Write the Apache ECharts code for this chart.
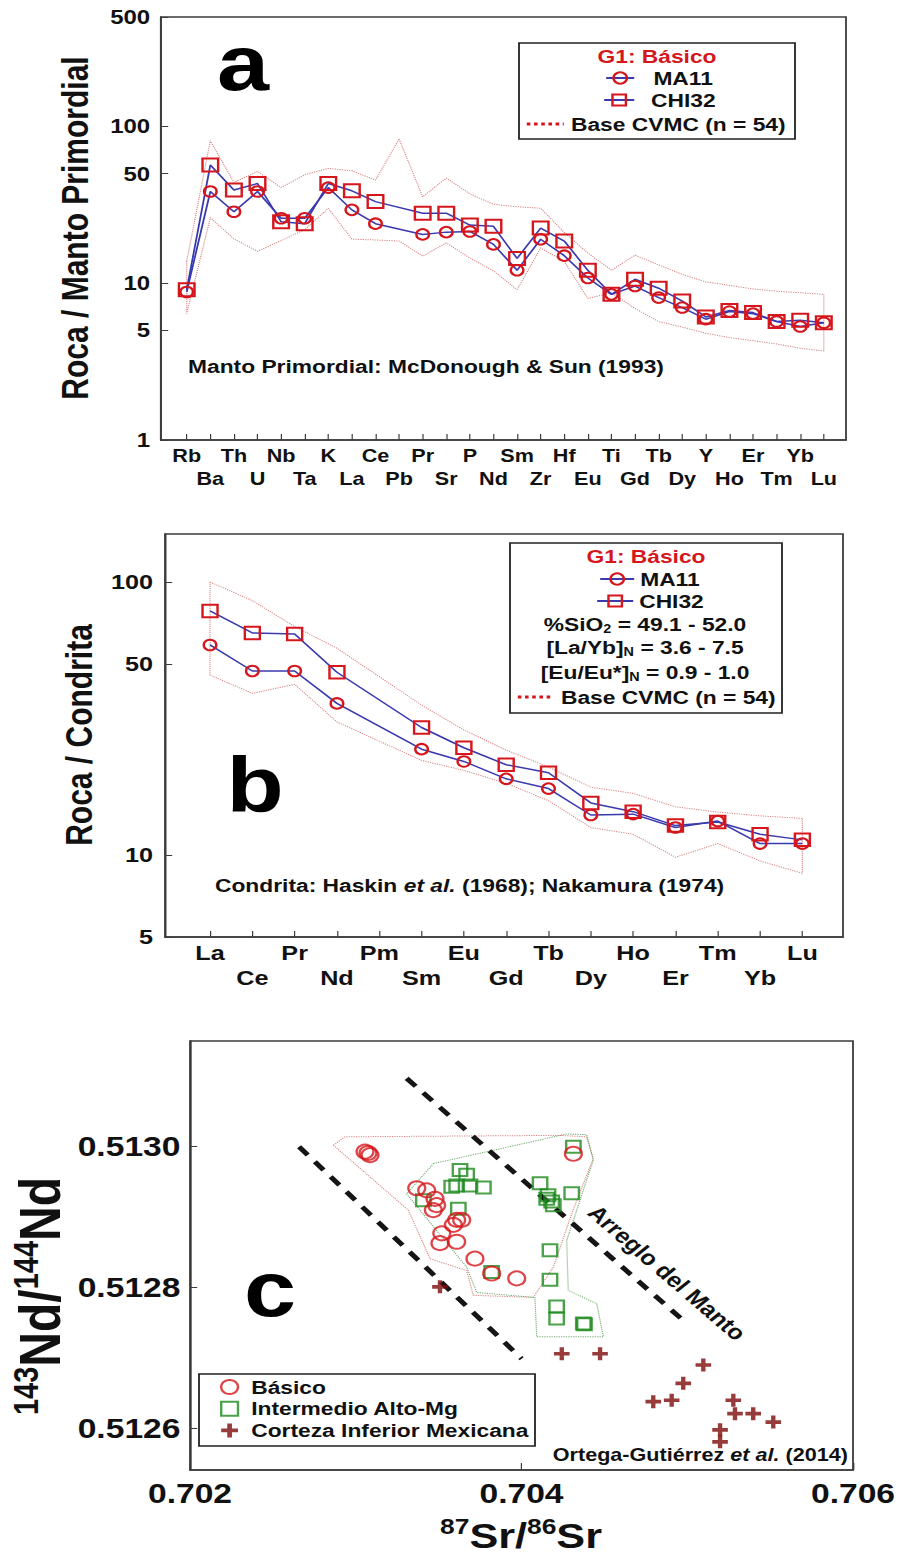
<!DOCTYPE html>
<html>
<head>
<meta charset="utf-8">
<title>G1 Básico - diagramas</title>
<script src="https://cdn.jsdelivr.net/npm/echarts@6/dist/echarts.min.js"></script>
<style>
  html, body { margin: 0; padding: 0; background: #fff; }
  #wrap { width: 902px; height: 1558px; overflow: hidden; }
  /* la figura original está estirada en horizontal */
  #main { width: 752px; height: 1558px; transform: scaleX(1.2); transform-origin: 0 0; }
</style>
</head>
<body>
<div id="wrap"><div id="main"></div></div>
<script>
// ---- a: normalizado al manto primordial ----
const elemA = ['Rb','Ba','Th','U','Nb','Ta','K','La','Ce','Pb','Pr','Sr','P','Nd','Sm','Zr','Hf','Eu','Ti','Gd','Tb','Dy','Y','Ho','Er','Tm','Yb','Lu'];
const ma11A = [8.8, 38.5, 28.6, 38.5, 26.0, 26.0, 40.8, 29.4, 24.0, null, 20.5, 21.2, 21.4, 17.7, 12.1, 19.1, 15.0, 10.8, 8.5, 9.6, 8.1, 7.0, 5.9, 6.6, 6.4, 5.7, 5.3, 5.6];
const chi32A = [9.1, 56.8, 39.4, 43.3, 24.7, 24.0, 43.3, 38.9, 33.2, null, 28.0, 28.0, 23.5, 23.1, 14.4, 22.5, 18.6, 12.1, 8.5, 10.6, 9.3, 7.7, 6.1, 6.7, 6.5, 5.7, 5.8, 5.6];
const cvmcTopA = [13.8, 81.3, 44.0, 51.7, 40.8, 49.2, 54.1, 52.2, 45.5, 83.4, 35.6, 46.9, 37.2, 31.9, 30.8, 30.1, 21.1, 15.6, 12.1, 15.1, 13.1, 11.4, 10.2, 9.7, 9.2, 8.9, 8.7, 8.5];
const cvmcBotA = [6.4, 26.2, 19.2, 16.0, 18.7, 22.0, 30.1, 19.1, 18.9, 18.6, 14.9, 18.1, 14.5, 12.0, 9.1, 16.8, 13.8, 8.0, 8.7, 6.9, 5.7, 5.25, 4.8, 4.5, 4.3, 4.1, 3.85, 3.7];
const yTicksA = [1, 5, 10, 50, 100, 500];

// ---- b: REE normalizado a condrita ----
const elemB = ['La','Ce','Pr','Nd','Pm','Sm','Eu','Gd','Tb','Dy','Ho','Er','Tm','Yb','Lu'];
const ma11B = [58.8, 47.2, 47.2, 35.9, null, 24.4, 22.0, 19.0, 17.5, 14.0, 14.1, 12.6, 13.3, 11.0, 11.0];
const chi32B = [78.4, 65.1, 64.5, 46.7, null, 29.3, 24.7, 21.4, 20.0, 15.5, 14.4, 12.8, 13.2, 11.9, 11.35];
const cvmcTopB = [100, 85.5, 68.7, 57.2, null, 35.4, 28.7, 24.2, 21.0, 17.7, 16.8, 15.0, 14.35, 13.9, 13.6];
const cvmcBotB = [45.6, 39.1, 42.2, 30.7, null, 22.2, 20.4, 18.3, 15.8, 12.6, 11.9, 9.8, 11.0, 9.5, 8.56];
const yTicksB = [5, 10, 50, 100];

// ---- c: 87Sr/86Sr vs 143Nd/144Nd ----
const basicoC = [
  [0.703056,0.512993],[0.703086,0.512988],[0.703074,0.512991],[0.703368,0.512941],[0.703428,0.512938],
  [0.703478,0.512926],[0.703488,0.512917],[0.703468,0.512910],[0.703609,0.512896],[0.703639,0.512896],
  [0.703589,0.512889],[0.703519,0.512877],[0.703508,0.512863],[0.703609,0.512865],[0.703719,0.512841],
  [0.703820,0.512820],[0.703971,0.512813],[0.704313,0.512990]
];
const intermedioC = [
  [0.703629,0.512967],[0.703669,0.512960],[0.703579,0.512943],[0.703609,0.512945],[0.703689,0.512945],
  [0.703770,0.512942],[0.703408,0.512924],[0.703619,0.512912],[0.703820,0.512822],[0.704313,0.513000],
  [0.704112,0.512948],[0.704152,0.512926],[0.704182,0.512922],[0.704192,0.512917],[0.704160,0.512931],
  [0.704303,0.512934],[0.704172,0.512853],[0.704172,0.512811],[0.704212,0.512773],[0.704212,0.512756],
  [0.704373,0.512749],[0.704380,0.512748]
];
const cortezaC = [
  [0.703508,0.512801],[0.704243,0.512706],[0.704474,0.512706],[0.705097,0.512690],[0.704976,0.512664],
  [0.704795,0.512638],[0.704906,0.512640],[0.705278,0.512640],[0.705288,0.512621],[0.705398,0.512621],
  [0.705519,0.512609],[0.705198,0.512598],[0.705198,0.512581]
];
const envBasicoC = [
  [0.702865,0.513002],[0.702935,0.513014],[0.704232,0.513016],[0.704393,0.513014],[0.704433,0.512983],
  [0.704311,0.512910],[0.704192,0.512829],[0.704071,0.512786],[0.703709,0.512789],[0.703669,0.512824],
  [0.703448,0.512841],[0.703317,0.512910],[0.702865,0.513002]
];
const envInterC = [
  [0.703468,0.512976],[0.704273,0.513018],[0.704393,0.513017],[0.704433,0.512981],[0.704273,0.512867],
  [0.704282,0.512796],[0.704454,0.512777],[0.704494,0.512730],[0.704092,0.512730],[0.704081,0.512786],
  [0.703730,0.512793],[0.703669,0.512829],[0.703307,0.512933],[0.703468,0.512976]
];
const mantoLo = [[0.702658,0.513000],[0.704001,0.512699]];
const mantoHi = [[0.703307,0.513097],[0.704997,0.512749]];
const xTicksC = [0.702, 0.704, 0.706];
const yTicksC = [0.5126, 0.5128, 0.5130];

const FONT = '"Liberation Sans", Arial, Helvetica, sans-serif';
const RED = '#d5161c';
const BLUE = '#3a3aae';
const ENV = '#d98080';
const AX = '#3c3c3c';
const S = 1.2;
const hx = v => v / S;   // posiciones horizontales medidas en pantalla

function pts(arr) {
  const out = [];
  arr.forEach((v, i) => { if (v != null) out.push([i, v]); });
  return out;
}
function band(top, bot) {
  const up = pts(top), lo = pts(bot).reverse();
  return up.concat(lo, [up[0]]);
}
function idx(arr) { return arr.map((_, i) => i); }

const lbl = (size, extra) => Object.assign({ fontFamily: FONT, fontWeight: 'bold', fontSize: size, color: '#111' }, extra || {});

// eje de elementos: dos ejes en el mismo grid, uno por fila de etiquetas
function elemAxes(grid, names, min, max, size, margin, rowGap) {
  const all = idx(names);
  const even = all.filter(i => i % 2 === 0), odd = all.filter(i => i % 2 === 1);
  const fmt = v => names[Math.round(v)];
  return [
    {
      gridIndex: grid, type: 'value', min: min, max: max, position: 'bottom',
      axisLine: { show: true, onZero: false, lineStyle: { color: AX, width: 1.5 } },
      axisTick: { show: true, inside: true, length: 6, customValues: all, lineStyle: { color: AX } },
      axisLabel: lbl(size, { customValues: even, margin: margin, formatter: fmt }),
      splitLine: { show: false }
    },
    {
      gridIndex: grid, type: 'value', min: min, max: max, position: 'bottom', offset: 0,
      axisLine: { show: false, onZero: false }, axisTick: { show: false },
      axisLabel: lbl(size, { customValues: odd, margin: margin + rowGap, formatter: fmt }),
      splitLine: { show: false }
    }
  ];
}
function logY(grid, min, max, ticks, size, margin) {
  return {
    gridIndex: grid, type: 'log', logBase: 10, min: min, max: max,
    axisLine: { show: true, onZero: false, lineStyle: { color: AX, width: 1.5 } },
    axisTick: { show: true, inside: true, length: 6, customValues: ticks, lineStyle: { color: AX } },
    axisLabel: lbl(size, { customValues: ticks, margin: margin, formatter: v => String(Math.round(v)) }),
    splitLine: { show: false }, minorTick: { show: false }
  };
}
function rowLegend(name, left, cy, iconW, padLeft, extra) {
  return {
    data: [Object.assign({ name: name }, extra || {})],
    left: hx(left), top: cy - 10, padding: 0, itemWidth: hx(iconW), itemHeight: 14, selectedMode: false,
    textStyle: lbl(19, { lineHeight: 20, padding: [0, 0, 0, padLeft] })
  };
}
function txt(x, y, text, size, extra, rich) {
  const st = Object.assign({
    text: text, fontFamily: FONT, fontWeight: 'bold', fontSize: size, fill: '#111',
    align: 'center', verticalAlign: 'middle', textAlign: 'center', textVerticalAlign: 'middle'
  }, extra || {});
  if (rich) st.rich = rich;
  return { type: 'text', x: x, y: y, z: 10, style: st };
}

const sub = { fontFamily: FONT, fontWeight: 'bold', fontSize: 12, lineHeight: 12, verticalAlign: 'bottom', fill: '#111' };
const ital = { fontFamily: FONT, fontWeight: 'bold', fontStyle: 'italic', fontSize: 19, fill: '#111' };

const lineSeries = (name, data, x, y, symbol, size) => ({
  type: 'line', name: name, xAxisIndex: x, yAxisIndex: y, data: data,
  symbol: symbol, symbolSize: size, showAllSymbol: true, z: 3,
  lineStyle: { color: BLUE, width: 1.5 },
  itemStyle: { color: 'rgba(0,0,0,0)', borderColor: RED, borderWidth: 2 },
  emphasis: { disabled: true }
});
const envSeries = (data, x, y, color) => ({
  type: 'line', name: 'Base CVMC (n = 54)', xAxisIndex: x, yAxisIndex: y, data: data,
  symbol: 'none', z: 1, silent: true,
  itemStyle: { color: 'rgba(0,0,0,0)', borderWidth: 0 },
  lineStyle: { color: color, width: 1, type: 'dotted' }, emphasis: { disabled: true }
});
const plainLine = (name, data, color, width, type) => ({
  type: 'line', name: name, xAxisIndex: 4, yAxisIndex: 2, data: data, symbol: 'none', z: 1, silent: true,
  lineStyle: { color: color, width: width, type: type }, emphasis: { disabled: true }
});
const CROSS = 'path://M3.6,0h2.8v3.6h3.6v2.8h-3.6v3.6h-2.8v-3.6h-3.6v-2.8h3.6z';
const legendDots = { lineStyle: { color: RED, width: 3, type: 'dotted' }, itemStyle: { color: 'rgba(0,0,0,0)', borderWidth: 0 } };

const chart = echarts.init(document.getElementById('main'), null, { renderer: 'svg' });
chart.setOption({
  animation: false,
  backgroundColor: '#fff',
  grid: [
    { left: hx(161), top: 17, width: hx(685), height: 423, show: true, borderColor: AX, borderWidth: 1.5, backgroundColor: 'transparent' },
    { left: hx(165), top: 534, width: hx(678), height: 403, show: true, borderColor: AX, borderWidth: 1.5, backgroundColor: 'transparent' },
    { left: hx(190), top: 1041, width: hx(663), height: 429, show: true, borderColor: AX, borderWidth: 1.5, backgroundColor: 'transparent' }
  ],
  xAxis: [].concat(
    elemAxes(0, elemA, -1.09, 27.94, 18, 6.5, 23),
    elemAxes(1, elemB, -1.064, 14.96, 21, 5, 25),
    [{
      gridIndex: 2, type: 'value', min: 0.702, max: 0.706,
      axisLine: { show: true, onZero: false, lineStyle: { color: AX, width: 1.5 } },
      axisTick: { show: true, inside: true, length: 7, customValues: xTicksC, lineStyle: { color: AX } },
      axisLabel: lbl(28, { customValues: xTicksC, margin: 9, formatter: v => v.toFixed(3) }),
      splitLine: { show: false }
    }]
  ),
  yAxis: [
    logY(0, 1, 500, yTicksA, 20, 9),
    logY(1, 5, 150, yTicksB, 21, 10),
    {
      gridIndex: 2, type: 'value', min: 0.512541, max: 0.51315,
      axisLine: { show: true, onZero: false, lineStyle: { color: AX, width: 1.5 } },
      axisTick: { show: true, inside: true, length: 6, customValues: yTicksC, lineStyle: { color: AX } },
      axisLabel: lbl(28, { customValues: yTicksC, margin: 8, formatter: v => v.toFixed(4) }),
      splitLine: { show: false }
    }
  ],
  legend: [
    rowLegend('MA11', 605, 78, 28, 11),
    rowLegend('CHI32', 603, 100, 30, 9),
    rowLegend('Base CVMC (n = 54)', 525, 124, 37, 1, legendDots),
    rowLegend('MA11', 599, 579, 34, 0),
    rowLegend('CHI32', 596, 601, 36, 0),
    rowLegend('Base CVMC (n = 54)', 516, 697, 36, 1, legendDots),
    {
      data: ['Básico', 'Intermedio Alto-Mg', 'Corteza Inferior Mexicana'],
      orient: 'vertical', left: hx(220), top: 1377, padding: 0, itemGap: 1.7,
      itemWidth: 14, itemHeight: 14, selectedMode: false,
      textStyle: lbl(19, { lineHeight: 20, padding: [0, 0, 0, 6] })
    }
  ],
  graphic: [
    // recuadros de leyenda
    { type: 'rect', z: 1, shape: { x: hx(519), y: 43, width: hx(276), height: 96 }, style: { fill: 'none', stroke: '#222', lineWidth: 1.5 } },
    { type: 'rect', z: 1, shape: { x: hx(510), y: 543, width: hx(272), height: 170 }, style: { fill: 'none', stroke: '#222', lineWidth: 1.5 } },
    { type: 'rect', z: 1, shape: { x: hx(199), y: 1374, width: hx(336), height: 72 }, style: { fill: 'none', stroke: '#222', lineWidth: 1.5 } },
    // letras de panel
    txt(hx(243), 63, 'a', 78, { fill: '#000' }),
    txt(hx(255), 785, 'b', 78, { fill: '#000' }),
    txt(hx(270), 1289, 'c', 78, { fill: '#000' }),
    // títulos de leyenda
    txt(hx(657), 56, 'G1: Básico', 19, { fill: RED }),
    txt(hx(646), 556, 'G1: Básico', 19, { fill: RED }),
    txt(hx(645), 624, '%SiO{s|2} = 49.1 - 52.0', 19, { lineHeight: 22 }, { s: sub }),
    txt(hx(645), 647, '[La/Yb]{s|N} = 3.6 - 7.5', 19, { lineHeight: 22 }, { s: sub }),
    txt(hx(645), 672, '[Eu/Eu*]{s|N} = 0.9 - 1.0', 19, { lineHeight: 22 }, { s: sub }),
    // notas
    txt(hx(188), 366, 'Manto Primordial: McDonough & Sun (1993)', 19, { align: 'left', textAlign: 'left' }),
    txt(hx(215), 885, 'Condrita: Haskin {i|et al.} (1968); Nakamura (1974)', 19, { align: 'left', textAlign: 'left' }, { i: ital }),
    txt(hx(848), 1455, 'Ortega-Gutiérrez {i|et al.} (2014)', 18, { align: 'right', textAlign: 'right' }, { i: Object.assign({}, ital, { fontSize: 18 }) }),
    Object.assign(txt(hx(667), 1273, 'Arreglo del Manto', 21), { rotation: -0.80 }),
    // títulos de ejes
    Object.assign(txt(hx(76), 228, 'Roca / Manto Primordial', 30), { rotation: Math.PI / 2 }),
    Object.assign(txt(hx(80), 735, 'Roca / Condrita', 30), { rotation: Math.PI / 2 }),
    Object.assign(txt(hx(40), 1296, '{p|143}Nd/{p|144}Nd', 48, { lineHeight: 52 },
      { p: { fontFamily: FONT, fontWeight: 'bold', fontSize: 29, lineHeight: 29, verticalAlign: 'top', fill: '#111' } }),
      { rotation: Math.PI / 2 }),
    txt(hx(521), 1535, '{p|87}Sr/{p|86}Sr', 36, { lineHeight: 40 },
      { p: { fontFamily: FONT, fontWeight: 'bold', fontSize: 22, lineHeight: 22, verticalAlign: 'top', fill: '#111' } })
  ],
  series: [
    envSeries(band(cvmcTopA, cvmcBotA), 0, 0, ENV),
    lineSeries('MA11', pts(ma11A), 0, 0, 'circle', 10.5),
    lineSeries('CHI32', pts(chi32A), 0, 0, 'rect', 13),
    envSeries(band(cvmcTopB, cvmcBotB), 2, 1, ENV),
    lineSeries('MA11', pts(ma11B), 2, 1, 'circle', 10.5),
    lineSeries('CHI32', pts(chi32B), 2, 1, 'rect', 12.5),
    plainLine('Envolvente Básico', envBasicoC, '#d98080', 1, 'dotted'),
    plainLine('Envolvente Intermedio', envInterC, '#6aa86a', 1, 'dotted'),
    plainLine('Arreglo del Manto 1', mantoLo, '#151515', 4.5, [11, 9]),
    plainLine('Arreglo del Manto 2', mantoHi, '#151515', 4.5, [11, 9]),
    {
      type: 'scatter', name: 'Intermedio Alto-Mg', xAxisIndex: 4, yAxisIndex: 2, data: intermedioC,
      symbol: 'rect', symbolSize: 12, z: 3, emphasis: { disabled: true },
      itemStyle: { color: 'rgba(0,0,0,0)', borderColor: '#1d8a1d', borderWidth: 2 }
    },
    {
      type: 'scatter', name: 'Básico', xAxisIndex: 4, yAxisIndex: 2, data: basicoC,
      symbol: 'circle', symbolSize: 14, z: 4, emphasis: { disabled: true },
      itemStyle: { color: 'rgba(0,0,0,0)', borderColor: RED, borderWidth: 2 }
    },
    {
      type: 'scatter', name: 'Corteza Inferior Mexicana', xAxisIndex: 4, yAxisIndex: 2, data: cortezaC,
      symbol: CROSS, symbolSize: 13, z: 4, emphasis: { disabled: true },
      itemStyle: { color: '#7d0a0a' }
    }
  ]
});
</script>
</body>
</html>
